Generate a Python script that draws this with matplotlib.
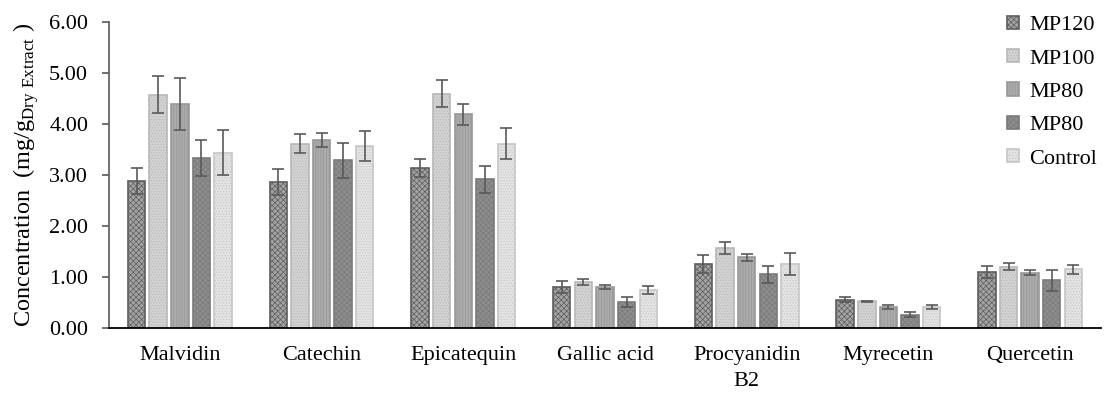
import numpy as np
import matplotlib.pyplot as plt

plt.rcParams['font.family'] = ['Liberation Serif', 'DejaVu Serif']
plt.rcParams['hatch.linewidth'] = 0.5

compounds = ['Malvidin', 'Catechin', 'Epicatequin', 'Gallic acid',
             'Procyanidin\nB2', 'Myrecetin', 'Quercetin']
series = ['MP120', 'MP100', 'MP80', 'MP80', 'Control']

# mean concentration (mg/g dry extract) per series, one value per compound
mp120 = [2.89, 2.87, 3.14, 0.81, 1.26, 0.56, 1.11]
mp100 = [4.58, 3.62, 4.60, 0.91, 1.58, 0.53, 1.21]
mp80a = [4.39, 3.69, 4.19, 0.81, 1.39, 0.42, 1.09]
mp80b = [3.34, 3.29, 2.92, 0.51, 1.06, 0.27, 0.94]
control = [3.44, 3.57, 3.62, 0.76, 1.26, 0.42, 1.16]

# standard deviations
mp120_sd = [0.25, 0.25, 0.18, 0.12, 0.18, 0.05, 0.12]
mp100_sd = [0.37, 0.19, 0.27, 0.06, 0.12, 0.01, 0.07]
mp80a_sd = [0.51, 0.14, 0.21, 0.04, 0.07, 0.03, 0.05]
mp80b_sd = [0.35, 0.35, 0.27, 0.10, 0.17, 0.05, 0.20]
control_sd = [0.44, 0.30, 0.30, 0.08, 0.22, 0.03, 0.09]

values = [mp120, mp100, mp80a, mp80b, control]
errors = [mp120_sd, mp100_sd, mp80a_sd, mp80b_sd, control_sd]

faces = ['#a3a3a3', '#d2d2d2', '#ababab', '#8d8d8d', '#e3e3e3']
edges = ['#5e5e5e', '#b8b8b8', '#989898', '#7a7a7a', '#c6c6c6']
hatches = ['xxxxxx', '......', '||||||', 'xxxxxx', '......']

fig = plt.figure(figsize=(11.04, 4.01), dpi=100)
ax = fig.add_axes([0.0987, 0.181, 0.8986, 0.764])

x = np.arange(len(compounds))
pitch = 0.1525
width = 0.123
for i in range(len(series)):
    pos = x + (i - 2) * pitch
    ax.bar(pos, values[i], width, color=faces[i], edgecolor=edges[i],
           hatch=hatches[i], linewidth=1.2, label=series[i], zorder=2)
    ax.errorbar(pos, values[i], yerr=errors[i], fmt='none', ecolor='#5a5a5a',
                elinewidth=1.2, capsize=4, capthick=1.2, zorder=3)

ax.set_xlim(-0.5, len(compounds) - 0.5)
ax.set_ylim(0, 6)
ax.set_yticks(np.arange(0, 6.01, 1))
ax.set_yticklabels([f'{v:.2f}' for v in np.arange(0, 6.01, 1)])
ax.set_xticks(x)
ax.set_xticklabels(compounds, linespacing=1.45)
ax.tick_params(axis='x', length=0, pad=13, labelsize=16)
ax.tick_params(axis='y', length=5, width=1.2, color='#595959', pad=10, labelsize=16)

for s in ['top', 'right']:
    ax.spines[s].set_visible(False)
ax.spines['left'].set_color('#595959')
ax.spines['left'].set_linewidth(1.2)
ax.spines['bottom'].set_color('black')
ax.spines['bottom'].set_linewidth(1.3)

ax.set_ylabel(r'Concentration  (mg/g$_{\mathregular{Dry\ Extract}}$ )', fontsize=17.5, labelpad=6)

ax.legend(loc='upper right', bbox_to_anchor=(1.005, 1.05), frameon=False,
          fontsize=16, handlelength=0.55, handleheight=0.55, handletextpad=0.45,
          labelspacing=0.62, borderaxespad=0)

fig.savefig('out.png', dpi=100)
